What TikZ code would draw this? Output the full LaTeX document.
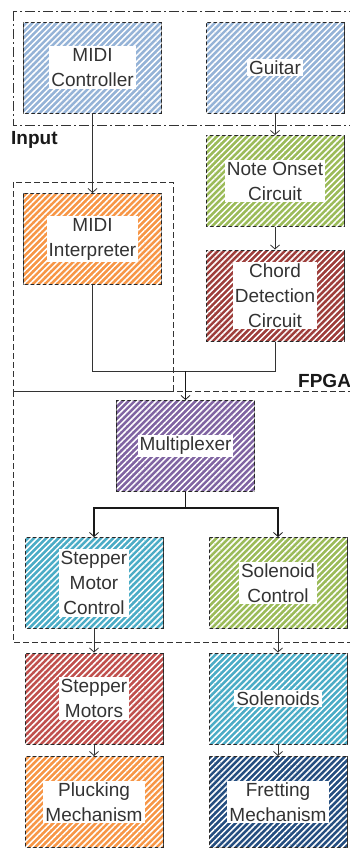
\documentclass[tikz,border=0pt]{standalone}
\usepackage{fontspec}
\setmainfont{Liberation Sans}
\usetikzlibrary{patterns.meta,arrows.meta}
\definecolor{cBlue}{HTML}{95B3D7}
\definecolor{cGreen}{HTML}{9BBB59}
\definecolor{cOrange}{HTML}{F79646}
\definecolor{cChord}{HTML}{9E3E3B}
\definecolor{cRed}{HTML}{C0504D}
\definecolor{cPurple}{HTML}{8064A2}
\definecolor{cTeal}{HTML}{4BACC6}
\definecolor{cNavy}{HTML}{254E80}
\definecolor{cText}{HTML}{333333}
\tikzset{
  blk/.style={draw=black!85, line width=1pt, minimum width=138pt, minimum height=91pt, inner sep=0pt,
    fill=#1, postaction={pattern={Lines[angle=45,distance=4.3pt,line width=1.5pt]}, pattern color=white}},
  lbl/.style={fill=white, inner sep=2pt, align=center, font=\fontsize{19}{25}\selectfont, text=cText},
  arr/.style={-{Straight Barb[length=4pt,width=9pt]}, draw=black!80, line width=0.8pt},
  tarr/.style={draw=black!90, line width=1.6pt, -{Straight Barb[length=4pt,width=9pt,line width=0.8pt]}},
  ln/.style={draw=black!80, line width=0.8pt},
  tln/.style={draw=black!90, line width=1.6pt},
  region/.style={draw=black!80, line width=0.8pt, dash pattern=on 6pt off 3pt},
  inregion/.style={draw=black!80, line width=0.8pt, dash pattern=on 10pt off 3pt on 2pt off 3pt},
  tag/.style={font=\bfseries\fontsize{19}{22}\selectfont, text=black!90, inner sep=0pt}
}
\begin{document}
\begin{tikzpicture}[x=1pt,y=-1pt]
\useasboundingbox (0,0) rectangle (350,855);
\clip (0,0) rectangle (350,855);
% regions
\draw[inregion] (13,11) rectangle (360,125);
\draw[region] (13,182) rectangle (173,391);
\draw[region] (13,391) rectangle (360,642);
\node[tag, anchor=base west] (tin) at (11,144) {Input};
\node[tag, anchor=base west] (tfp) at (298,387) {FPGA};
% blocks
\node[blk=cBlue] (mc) at (92.5,67.5) {};
\node[lbl] (mct) at (mc) {MIDI\\Controller};
\node[blk=cBlue] (gt) at (275,67.5) {};
\node[lbl] (gtt) at (gt) {Guitar};
\node[blk=cGreen] (no) at (275,181) {};
\node[lbl] (not) at (no) {Note Onset\\Circuit};
\node[blk=cOrange] (mi) at (92.5,239) {};
\node[lbl] (mit) at (mi) {MIDI\\Interpreter};
\node[blk=cChord] (cd) at (275,295.5) {};
\node[lbl] (cdt) at (cd) {Chord\\Detection\\Circuit};
\node[blk=cPurple] (mx) at (185.5,446) {};
\node[lbl] (mxt) at (mx) {Multiplexer};
\node[blk=cTeal] (smc) at (94,583) {};
\node[lbl] (smct) at (smc) {Stepper\\Motor\\Control};
\node[blk=cGreen] (sc) at (278,583) {};
\node[lbl] (sct) at (sc) {Solenoid\\Control};
\node[blk=cRed] (sm) at (94,698.5) {};
\node[lbl] (smt) at (sm) {Stepper\\Motors};
\node[blk=cTeal] (so) at (278,698.5) {};
\node[lbl] (sot) at (so) {Solenoids};
\node[blk=cOrange] (pm) at (94,802) {};
\node[lbl] (pmt) at (pm) {Plucking\\Mechanism};
\node[blk=cNavy] (fm) at (278,802) {};
\node[lbl] (fmt) at (fm) {Fretting\\Mechanism};
% connectors
\draw[arr] (mc.south) -- (mi.north);
\draw[arr] (gt.south) -- (no.north);
\draw[arr] (no.south) -- (cd.north);
\coordinate (j1) at (185.5,371);
\draw[ln] (mi.south) |- (j1);
\draw[ln] (cd.south) |- (j1);
\draw[tarr] (j1) -- (mx.north);
\coordinate (j2) at (185.5,508);
\draw[tln] (mx.south) -- (j2);
\draw[tarr] (j2) -| (smc.north);
\draw[tarr] (j2) -| (sc.north);
\draw[arr] (smc.south) -- (sm.north);
\draw[arr] (sc.south) -- (so.north);
\draw[arr] (sm.south) -- (pm.north);
\draw[arr] (so.south) -- (fm.north);
\end{tikzpicture}
\end{document}
